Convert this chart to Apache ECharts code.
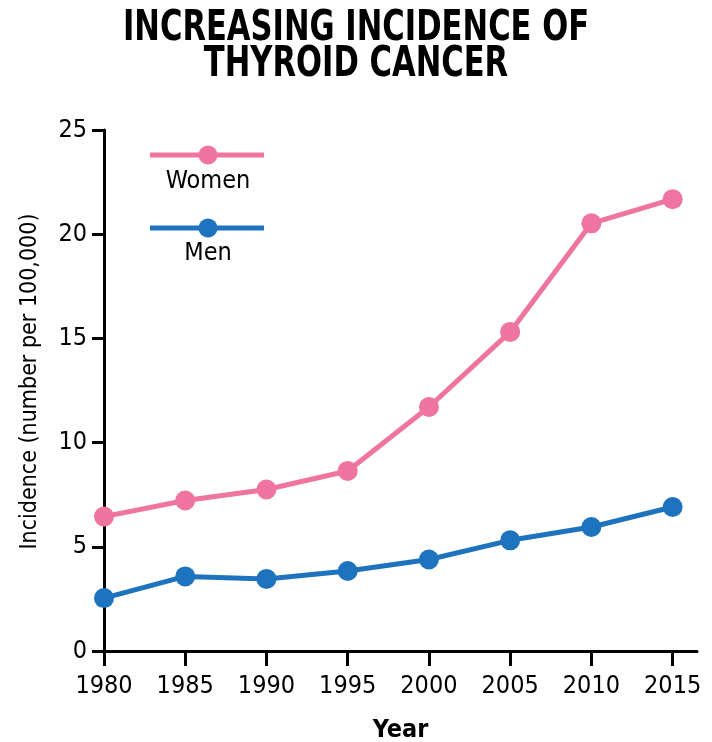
<!DOCTYPE html>
<html>
<head>
<meta charset="utf-8">
<script src="https://cdn.jsdelivr.net/npm/echarts@6/dist/echarts.min.js"></script>
<style>
  html, body { margin: 0; padding: 0; background: #fff; }
  #chart { width: 712px; height: 742px; }
</style>
</head>
<body>
<div id="chart"></div>
<script>
// Thyroid cancer incidence, per 100,000 people
const years = [1980, 1985, 1990, 1995, 2000, 2005, 2010, 2015];
const women = [6.45, 7.22, 7.75, 8.64, 11.71, 15.31, 20.52, 21.68];
const men   = [2.54, 3.58, 3.46, 3.84, 4.39, 5.31, 5.95, 6.91];
const yTicks = [0, 5, 10, 15, 20, 25];

const FONT = "'DejaVu Sans Condensed', 'Liberation Sans Narrow', sans-serif";
const PINK = '#F074A0';
const BLUE = '#1E73BE';

const chart = echarts.init(document.getElementById('chart'), null, { renderer: 'canvas' });

const axisLine = { show: true, lineStyle: { color: '#000', width: 3 } };
const plain = v => String(v);

chart.setOption({
  animation: false,
  backgroundColor: '#fff',
  grid: { left: 104, right: 15, top: 130, bottom: 91, outerBoundsMode: 'none', containLabel: false },
  xAxis: {
    type: 'value',
    min: 1980,
    max: 2016.5,
    name: 'Year',
    nameLocation: 'middle',
    nameGap: 67,
    nameTextStyle: { fontFamily: FONT, fontWeight: 'bold', fontSize: 25, color: '#000' },
    axisLine: axisLine,
    axisTick: { show: true, inside: false, length: 15, lineStyle: { color: '#000', width: 3 }, customValues: years },
    axisLabel: { fontFamily: FONT, fontSize: 25, color: '#000', margin: 23, customValues: years, formatter: plain },
    splitLine: { show: false }
  },
  yAxis: {
    type: 'value',
    min: 0,
    max: 25,
    interval: 5,
    name: 'Incidence (number per 100,000)',
    nameLocation: 'middle',
    nameGap: 62,
    nameTextStyle: { fontFamily: FONT, fontSize: 23, color: '#000', padding: [0, 0, 0, 18] },
    axisLine: axisLine,
    axisTick: { show: true, inside: false, length: 12, lineStyle: { color: '#000', width: 3 }, customValues: yTicks },
    axisLabel: { fontFamily: FONT, fontSize: 25, color: '#000', margin: 17, customValues: yTicks, formatter: plain },
    splitLine: { show: false }
  },
  series: [
    {
      name: 'Women',
      type: 'line',
      data: years.map((y, i) => [y, women[i]]),
      symbol: 'circle',
      symbolSize: 20,
      lineStyle: { color: PINK, width: 5 },
      itemStyle: { color: PINK },
      clip: false,
      z: 3
    },
    {
      name: 'Men',
      type: 'line',
      data: years.map((y, i) => [y, men[i]]),
      symbol: 'circle',
      symbolSize: 20,
      lineStyle: { color: BLUE, width: 5 },
      itemStyle: { color: BLUE },
      clip: false,
      z: 3
    }
  ],
  graphic: [
    // Heading, set in a condensed bold face
    {
      type: 'text', x: 356, y: 29, scaleX: 0.81,
      style: { text: 'INCREASING INCIDENCE OF', font: 'bold 42px ' + FONT, fill: '#000', align: 'center', verticalAlign: 'middle' }
    },
    {
      type: 'text', x: 356, y: 65, scaleX: 0.81,
      style: { text: 'THYROID CANCER', font: 'bold 42px ' + FONT, fill: '#000', align: 'center', verticalAlign: 'middle' }
    },
    // Key in the upper-left corner: line with dot, name underneath
    { type: 'line', shape: { x1: 150, y1: 155, x2: 264, y2: 155 }, style: { stroke: PINK, lineWidth: 5 } },
    { type: 'circle', shape: { cx: 208, cy: 155, r: 9.5 }, style: { fill: PINK } },
    { type: 'text', x: 208, y: 181, style: { text: 'Women', font: '25px ' + FONT, fill: '#000', align: 'center', verticalAlign: 'middle' } },
    { type: 'line', shape: { x1: 150, y1: 228, x2: 264, y2: 228 }, style: { stroke: BLUE, lineWidth: 5 } },
    { type: 'circle', shape: { cx: 208, cy: 228, r: 9.5 }, style: { fill: BLUE } },
    { type: 'text', x: 208, y: 253, style: { text: 'Men', font: '25px ' + FONT, fill: '#000', align: 'center', verticalAlign: 'middle' } }
  ]
});
</script>
</body>
</html>
